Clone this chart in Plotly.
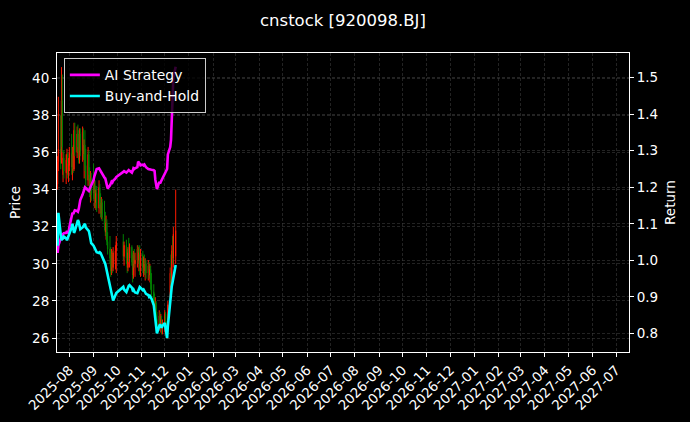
import pandas as pd
import plotly.graph_objects as go

# trading calendar (Beijing Stock Exchange, National Day holiday skipped)
holidays = ["2025-10-01", "2025-10-02", "2025-10-03", "2025-10-06", "2025-10-07", "2025-10-08"]
dates = pd.bdate_range("2025-07-17", "2025-12-15", freq="C", holidays=holidays)

open_ = [34.3, 35.5, 36.2, 35.6, 38.8, 34.8, 35.7, 34.9, 35.5, 35.9, 34.8, 35.3,
         36.0, 35.2, 35.9, 35.1, 37.2, 36.0, 37.0, 36.3, 35.6, 37.0, 36.1, 37.1,
         35.9, 36.4, 35.3, 34.5, 35.9, 34.8, 33.9, 34.6, 34.5, 33.8, 34.2, 33.3,
         33.8, 33.0, 34.1, 33.2, 32.7, 33.3, 32.5, 32.1, 31.7, 32.2, 31.2, 30.8,
         30.3, 29.6, 30.5, 29.8, 30.0, 30.7, 31.2, 30.4, 31.0, 30.3, 29.8, 30.6,
         30.3, 30.9, 30.1, 29.4, 30.5, 30.0, 30.2, 30.8, 30.2, 30.6, 29.6, 30.5,
         29.8, 30.2, 29.6, 30.0, 29.5, 29.9, 29.4, 29.7, 28.9, 28.5, 28.0, 27.5,
         27.9, 27.0, 26.6, 27.2, 26.7, 27.0, 26.5, 26.8, 27.3, 26.6, 26.3, 26.6,
         27.8, 29.5, 29.1, 30.7, 30.3, 30.4]
high = [35.8, 39.0, 38.0, 40.6, 40.2, 36.0, 36.1, 35.9, 36.2, 36.0, 35.7, 36.3,
        37.0, 36.3, 36.4, 37.6, 37.6, 37.4, 37.5, 37.2, 37.3, 37.3, 37.4, 37.3,
        36.7, 37.2, 36.2, 36.3, 36.1, 35.2, 35.0, 34.9, 35.4, 34.6, 34.5, 34.0,
        34.2, 34.5, 34.3, 33.8, 33.6, 33.5, 33.4, 32.8, 32.6, 32.4, 31.7, 31.5,
        30.9, 30.8, 30.7, 30.9, 31.0, 31.5, 31.6, 31.2, 31.3, 30.8, 30.9, 31.4,
        31.1, 31.0, 30.6, 30.7, 30.8, 30.6, 31.0, 31.0, 30.9, 31.0, 30.8, 30.7,
        30.4, 30.5, 30.3, 30.2, 30.2, 30.1, 30.0, 29.9, 29.5, 28.9, 28.4, 28.2,
        28.0, 27.4, 27.5, 27.4, 27.3, 27.2, 27.0, 27.5, 27.4, 26.9, 26.8, 28.0,
        29.8, 30.5, 31.0, 31.5, 32.0, 34.0]
low = [34.0, 35.0, 35.1, 35.4, 36.0, 34.4, 34.6, 34.3, 34.9, 34.6, 34.4, 35.0,
       34.8, 34.5, 34.9, 35.0, 35.8, 35.7, 36.0, 35.4, 35.4, 35.8, 35.5, 35.6,
       34.6, 35.0, 34.2, 34.2, 34.5, 33.6, 33.3, 33.4, 33.5, 33.0, 33.0, 32.9,
       32.8, 32.7, 33.0, 32.5, 32.4, 32.3, 31.8, 31.5, 31.3, 31.0, 30.5, 30.0,
       29.3, 29.4, 29.5, 29.6, 29.7, 29.5, 30.2, 29.9, 30.0, 29.5, 29.6, 30.1,
       29.8, 29.9, 29.0, 29.2, 29.8, 29.3, 29.8, 30.0, 29.6, 29.4, 29.3, 29.5,
       29.3, 29.4, 29.1, 29.2, 29.1, 29.2, 29.0, 28.6, 28.2, 27.7, 27.2, 27.0,
       26.8, 26.3, 26.4, 26.5, 26.3, 26.2, 26.2, 26.3, 26.4, 26.1, 25.98, 26.5,
       27.6, 28.8, 28.9, 30.0, 29.8, 30.0]
close = [35.5, 36.2, 35.4, 38.8, 36.3, 35.7, 35.0, 35.6, 35.9, 34.8, 35.4, 36.0,
         35.2, 35.9, 35.1, 37.2, 36.0, 37.0, 36.3, 35.6, 37.0, 36.1, 37.1, 35.9,
         36.4, 35.3, 34.5, 35.9, 34.8, 33.9, 34.6, 33.7, 33.8, 34.2, 33.3, 33.8,
         33.0, 34.1, 33.2, 32.7, 33.3, 32.5, 32.1, 31.7, 32.2, 31.2, 30.8, 30.3,
         29.6, 30.5, 29.8, 30.6, 30.7, 31.2, 30.4, 31.0, 30.3, 29.8, 30.6, 30.3,
         30.9, 30.1, 29.4, 30.5, 30.0, 30.2, 30.8, 30.2, 30.6, 29.6, 30.5, 29.8,
         30.2, 29.6, 30.0, 29.5, 29.9, 29.4, 29.7, 28.9, 28.5, 28.0, 27.5, 27.9,
         27.0, 26.6, 27.2, 26.7, 27.0, 26.5, 26.8, 27.3, 26.6, 26.3, 26.6, 27.8,
         29.5, 29.1, 30.7, 30.3, 31.6, 31.8]

ai_strategy = [1.02, 1.04, 1.06, 1.069, 1.07, 1.072, 1.074, 1.075, 1.08, 1.076, 1.075, 1.09,
               1.129, 1.13, 1.127, 1.135, 1.137, 1.135, 1.133, 1.14, 1.155, 1.165, 1.18, 1.185,
               1.19, 1.20, 1.198, 1.19, 1.19, 1.195, 1.20, 1.206, 1.22, 1.23, 1.238, 1.245,
               1.25, 1.252, 1.248, 1.245, 1.238, 1.235, 1.226, 1.224, 1.215, 1.205, 1.197, 1.205,
               1.212, 1.215, 1.213, 1.218, 1.224, 1.228, 1.242, 1.244, 1.24, 1.243, 1.246, 1.247,
               1.245, 1.24, 1.245, 1.252, 1.25, 1.252, 1.255, 1.27, 1.268, 1.262, 1.26, 1.262,
               1.26, 1.262, 1.258, 1.255, 1.25, 1.25, 1.25, 1.248, 1.248, 1.247, 1.245, 1.22,
               1.205, 1.195, 1.215, 1.21, 1.215, 1.22, 1.225, 1.24, 1.242, 1.245, 1.25, 1.29,
               1.31, 1.33, 1.40, 1.45, 1.50, 1.53]
buy_hold = [1.04, 1.13, 1.07, 1.055, 1.06, 1.06, 1.065, 1.06, 1.055, 1.06, 1.065, 1.07,
            1.09, 1.10, 1.085, 1.075, 1.08, 1.10, 1.11, 1.105, 1.095, 1.085, 1.09, 1.095,
            1.10, 1.10, 1.09, 1.083, 1.08, 1.07, 1.06, 1.047, 1.04, 1.036, 1.03, 1.025,
            1.022, 1.02, 1.022, 1.02, 1.015, 1.01, 1.0, 0.99, 0.98, 0.97, 0.96, 0.935,
            0.925, 0.91, 0.90, 0.89, 0.905, 0.91, 0.927, 0.92, 0.913, 0.92, 0.925, 0.93,
            0.932, 0.925, 0.918, 0.92, 0.915, 0.912, 0.91, 0.915, 0.922, 0.927, 0.925, 0.918,
            0.92, 0.915, 0.91, 0.908, 0.905, 0.90, 0.902, 0.898, 0.895, 0.877, 0.86, 0.845,
            0.83, 0.80, 0.82, 0.825, 0.82, 0.815, 0.82, 0.828, 0.815, 0.80, 0.787, 0.82,
            0.90, 0.915, 0.929, 0.94, 0.955, 0.987]

FONT = "DejaVu Sans"
GRID = "#3a3a3a"
TICK_SIZE = 13.5

fig = go.Figure()
fig.add_trace(go.Candlestick(
    x=dates, open=open_, high=high, low=low, close=close,
    increasing=dict(line=dict(color="#ff1a00", width=1), fillcolor="#ff1a00"),
    decreasing=dict(line=dict(color="#008000", width=1), fillcolor="#008000"),
    whiskerwidth=0, showlegend=False, hoverinfo="skip", yaxis="y",
))
fig.add_trace(go.Scatter(x=dates, y=ai_strategy, mode="lines", name="AI Strategy",
                         line=dict(color="#ff00ff", width=2.6), yaxis="y2"))
fig.add_trace(go.Scatter(x=dates, y=buy_hold, mode="lines", name="Buy-and-Hold",
                         line=dict(color="#00ffff", width=2.6), yaxis="y2"))

axis_common = dict(
    showline=True, linecolor="white", linewidth=1,
    ticks="outside", ticklen=4, tickcolor="white", tickwidth=1,
    tickfont=dict(color="white", size=TICK_SIZE, family=FONT),
    showgrid=True, gridcolor=GRID, gridwidth=0.6, griddash="3px,2px",
    zeroline=False, automargin=False,
)

fig.update_layout(
    width=690, height=422,
    margin=dict(l=57, r=61, t=53, b=70),
    paper_bgcolor="black", plot_bgcolor="black",
    font=dict(family=FONT, color="white", size=TICK_SIZE),
    title=dict(text="cnstock [920098.BJ]", x=0.497, xanchor="center",
               y=1 - 20 / 422, yanchor="middle",
               font=dict(size=16.5, color="white", family=FONT)),
    xaxis=dict(
        type="date", range=["2025-07-16 06:00", "2027-07-17 14:00"],
        tickformat="%Y-%m", dtick="M1", tick0="2025-08-01", tickangle=-45,
        rangeslider=dict(visible=False), mirror=True, **axis_common,
    ),
    yaxis=dict(
        range=[25.25, 41.36], dtick=2, tick0=26, mirror=True,
        title=dict(text="Price", font=dict(size=TICK_SIZE, color="white", family=FONT), standoff=8),
        **axis_common,
    ),
    yaxis2=dict(
        range=[0.7488, 1.5677], dtick=0.1, tick0=0.8, tickformat=".1f",
        overlaying="y", side="right",
        title=dict(text="Return", font=dict(size=TICK_SIZE, color="white", family=FONT), standoff=8),
        **axis_common,
    ),
    legend=dict(
        x=0.012, y=0.982, xanchor="left", yanchor="top",
        bgcolor="rgba(0,0,0,0.8)", bordercolor="#cccccc", borderwidth=1,
        font=dict(size=13.9, color="white", family=FONT),
        tracegroupgap=0, itemwidth=30,
    ),
    hovermode=False,
)

fig.write_html(
    "out.html",
    config={"displayModeBar": False, "staticPlot": True},
    post_script="document.body.style.margin='0';document.body.style.background='black';",
)
